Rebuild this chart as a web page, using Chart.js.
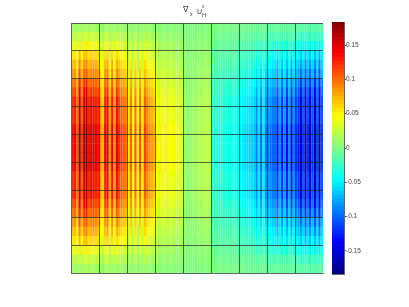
<!DOCTYPE html>
<html>
<head>
<meta charset="utf-8">
<title>Heat map</title>
<script src="https://cdn.jsdelivr.net/npm/chart.js@4"></script>
<style>
    html, body { margin: 0; padding: 0; background: #fff; }
    #wrap { position: relative; width: 409px; height: 307px; overflow: hidden; }
    canvas { position: absolute; left: 0; top: 0; filter: blur(0.3px); }
    #title span { position: absolute; font-family: "Liberation Sans", sans-serif; color: #333; line-height: 1; white-space: nowrap; }
</style>
</head>
<body>
<div id="wrap">
    <canvas id="heatChart" width="409" height="307"></canvas>
    <canvas id="barChart" width="409" height="307"></canvas>
    <div id="title">
        <span style="left:183px;top:6px;font-size:8px;font-family:'DejaVu Sans'">∇</span>
        <span style="left:190px;top:12px;font-size:5px">x</span>
        <span style="left:197px;top:8px;font-size:7px">U</span>
        <span style="left:202px;top:12.5px;font-size:5.5px">H</span>
        <span style="left:202px;top:4px;font-size:5px;font-family:'DejaVu Sans'">ε</span>
    </div>
</div>
<script>
// Values, in thousandths. One line per grid cell, 12 columns each.
// Levels go from the top edge of the plot to the middle row.
const level0 = [
    12,12,10,14,11,14,14,12,13,12,12,11,
    9,7,11,12,8,11,8,11,10,9,9,8,
    6,8,5,8,6,8,6,8,7,6,6,6,
    4,3,4,3,4,3,3,3,3,3,2,2,
    0,0,0,1,1,1,1,1,1,1,1,1,
    -2,-2,-2,-2,-2,-2,-2,-3,-3,-3,-3,-3,
    -5,-5,-5,-6,-6,-6,-6,-8,-5,-8,-5,-8,
    -9,-9,-9,-9,-11,-8,-11,-8,-12,-8,-12,-9,
    -12,-13,-15,-12,-15,-12,-16,-12,-16,-12,-16,-12
];
const level1 = [
    23,24,18,30,20,29,30,23,26,25,24,23,
    15,12,24,26,14,25,14,25,21,19,18,17,
    9,18,8,18,9,19,9,20,16,15,14,12,
    9,6,9,7,9,7,8,7,7,7,6,5,
    1,1,1,2,2,2,3,3,3,4,4,3,
    -5,-6,-5,-6,-5,-7,-6,-7,-6,-7,-7,-8,
    -9,-9,-10,-10,-10,-11,-11,-16,-9,-17,-9,-16,
    -16,-17,-17,-18,-22,-14,-23,-14,-24,-14,-23,-16,
    -21,-22,-27,-20,-28,-20,-29,-20,-30,-19,-30,-20
];
const level2 = [
    39,41,30,52,33,49,52,39,44,43,41,39,
    26,21,41,44,25,42,25,43,36,32,30,29,
    15,30,14,30,15,32,15,33,28,26,23,21,
    15,10,15,12,15,12,13,12,12,12,10,9,
    1,2,2,3,3,4,5,5,6,6,6,6,
    -9,-10,-9,-11,-9,-12,-10,-12,-11,-12,-12,-13,
    -15,-16,-16,-17,-17,-18,-19,-28,-16,-29,-16,-28,
    -28,-28,-30,-30,-38,-25,-39,-25,-41,-25,-40,-28,
    -36,-38,-46,-33,-48,-35,-50,-33,-51,-32,-51,-33
];
const level3 = [
    54,56,42,71,46,68,71,54,60,59,57,54,
    35,29,56,60,34,58,34,59,50,45,42,40,
    21,42,19,42,21,44,21,46,38,35,32,29,
    20,14,20,16,20,16,18,17,17,16,14,13,
    2,2,3,4,5,6,6,7,8,9,9,8,
    -12,-14,-12,-15,-13,-16,-14,-16,-15,-16,-17,-18,
    -21,-22,-22,-23,-24,-25,-26,-38,-22,-40,-22,-38,
    -38,-39,-41,-42,-52,-34,-54,-34,-56,-34,-55,-38,
    -50,-52,-64,-46,-66,-48,-69,-46,-70,-44,-70,-46
];
const level4 = [
    68,70,53,89,58,85,89,68,75,74,72,68,
    44,36,70,75,43,73,43,74,63,56,53,50,
    26,53,24,53,26,55,26,58,48,44,40,36,
    25,18,25,20,25,20,23,21,21,20,18,16,
    3,3,4,5,6,7,8,9,10,11,11,10,
    -15,-18,-15,-19,-16,-20,-18,-20,-19,-20,-21,-23,
    -26,-27,-28,-29,-30,-31,-33,-48,-28,-50,-28,-48,
    -48,-49,-51,-53,-65,-43,-68,-43,-70,-43,-69,-48,
    -63,-65,-80,-58,-83,-60,-86,-58,-88,-55,-88,-58
];
const level5 = [
    81,84,63,107,69,102,107,81,90,89,86,81,
    53,43,84,90,51,87,51,89,75,67,63,60,
    31,63,29,63,31,66,31,69,57,53,48,43,
    30,22,30,24,30,24,28,25,25,24,22,19,
    3,4,5,6,7,8,10,11,12,13,13,12,
    -18,-22,-18,-23,-19,-24,-22,-24,-23,-24,-25,-27,
    -31,-32,-34,-35,-36,-37,-39,-57,-33,-60,-33,-57,
    -57,-59,-61,-63,-78,-51,-81,-51,-84,-51,-83,-57,
    -75,-78,-96,-69,-99,-72,-103,-69,-105,-66,-105,-69
];
const level6 = [
    95,98,74,125,81,119,125,95,105,104,100,95,
    62,50,98,105,60,102,60,104,88,78,74,70,
    36,74,34,74,36,77,36,81,67,62,56,50,
    35,25,35,28,35,28,32,29,29,28,25,22,
    4,4,6,7,8,10,11,13,14,15,15,14,
    -21,-25,-21,-27,-22,-28,-25,-28,-27,-28,-29,-32,
    -36,-38,-39,-41,-42,-43,-46,-67,-39,-70,-39,-67,
    -67,-69,-71,-74,-91,-60,-95,-60,-98,-60,-97,-67,
    -88,-91,-112,-81,-116,-84,-120,-81,-123,-77,-123,-81
];
const level7 = [
    108,112,84,142,92,136,142,108,120,118,114,108,
    70,58,112,120,68,116,68,118,100,90,84,80,
    42,84,38,84,42,88,42,92,76,70,64,58,
    40,29,40,32,40,32,37,34,34,32,29,26,
    4,5,6,8,10,11,13,14,16,18,18,16,
    -24,-29,-24,-30,-26,-32,-29,-32,-30,-32,-34,-36,
    -42,-43,-45,-46,-48,-50,-52,-76,-44,-80,-44,-76,
    -76,-78,-82,-84,-104,-68,-108,-68,-112,-68,-110,-76,
    -100,-104,-128,-92,-132,-96,-138,-92,-140,-88,-140,-92
];
const level8 = [
    122,126,95,160,104,153,160,122,135,133,129,122,
    79,65,126,135,77,131,77,133,113,101,95,90,
    47,95,43,95,47,99,47,104,86,79,72,65,
    45,32,45,36,45,36,41,38,38,36,32,29,
    5,5,7,9,11,13,14,16,18,20,20,18,
    -27,-32,-27,-34,-29,-36,-32,-36,-34,-36,-38,-41,
    -47,-49,-50,-52,-54,-56,-59,-86,-50,-90,-50,-86,
    -86,-88,-92,-95,-117,-77,-122,-77,-126,-77,-124,-86,
    -113,-117,-144,-104,-149,-108,-155,-104,-158,-99,-158,-104
];
const level9 = [
    135,140,105,178,115,170,178,135,150,148,143,135,
    88,72,140,150,85,145,85,148,125,112,105,100,
    52,105,48,105,52,110,52,115,95,88,80,72,
    50,36,50,40,50,40,46,42,42,40,36,32,
    5,6,8,10,12,14,16,18,20,22,22,20,
    -30,-36,-30,-38,-32,-40,-36,-40,-38,-40,-42,-45,
    -52,-54,-56,-58,-60,-62,-65,-95,-55,-100,-55,-95,
    -95,-98,-102,-105,-130,-85,-135,-85,-140,-85,-138,-95,
    -125,-130,-160,-115,-165,-120,-172,-115,-175,-110,-175,-115
];
const levels = [level0, level1, level2, level3, level4, level5, level6, level7, level8, level9];

// The picture is the same above and below the middle, so each row just picks a level
const rowLevels = [0,1,2,3,4,5,6,7,8,8,8,9,9,9,9,9,8,8,8,7,6,5,4,3,2,1,0];

const colorTicks = [0.15, 0.1, 0.05, 0, -0.05, -0.1, -0.15];
const colorMax = 0.1835;
const colorSteps = 64;
const jetStops = [
    [0, 0, 0, 131], [0.125, 0, 0, 255], [0.375, 0, 255, 255],
    [0.625, 255, 255, 0], [0.875, 255, 0, 0], [1, 128, 0, 0]
];

const cellCols = 12;
const cellRows = 3;

function jetColor(v) {
    let t = Math.min(1, Math.max(0, (v + colorMax) / (2 * colorMax)));
    for (let i = 1; i < jetStops.length; i++) {
        const a = jetStops[i - 1], b = jetStops[i];
        if (t <= b[0]) {
            const f = (t - a[0]) / (b[0] - a[0]);
            const mix = k => Math.round(a[k] + (b[k] - a[k]) * f);
            return `rgb(${mix(1)},${mix(2)},${mix(3)})`;
        }
    }
    return "rgb(128,0,0)";
}

// 1. Main heat map, one floating bar per cell
const columns = level0.map((_, i) => i);
const rowSets = rowLevels.map((lev, r) => ({
    data: columns.map(() => [r, r + 1.05]),
    backgroundColor: levels[lev].map(v => jetColor(v / 1000)),
    borderWidth: 0
}));

new Chart(document.getElementById("heatChart"), {
    type: "bar",
    data: { labels: columns, datasets: rowSets },
    options: {
        responsive: false,
        animation: false,
        events: [],
        layout: { padding: { left: 71.5, top: 23, right: 86, bottom: 33.5 } },
        plugins: { legend: { display: false }, title: { display: false }, tooltip: { enabled: false } },
        datasets: { bar: { barPercentage: 1.02, categoryPercentage: 1, grouped: false } },
        scales: {
            x: {
                ticks: { display: false, autoSkip: false },
                border: { display: true, color: "#666", z: 2 },
                grid: {
                    z: 1, drawTicks: false, lineWidth: 1,
                    color: c => (c.index % cellCols === 0 ? "rgba(40,40,40,0.72)" : "rgba(0,0,0,0)")
                }
            },
            y: {
                min: 0, max: rowLevels.length,
                ticks: { display: false, stepSize: cellRows },
                border: { display: true, color: "#666", z: 2 },
                grid: { z: 1, drawTicks: false, lineWidth: 1, color: "rgba(40,40,40,0.72)" }
            }
        }
    }
});

// 2. Colour bar on the right
const rampSets = [];
for (let i = 0; i < colorSteps; i++) {
    const lo = -colorMax + 2 * colorMax * i / colorSteps;
    const hi = -colorMax + 2 * colorMax * (i + 1.1) / colorSteps;
    rampSets.push({ data: [[lo, hi]], backgroundColor: jetColor((lo + hi) / 2), borderWidth: 0 });
}

new Chart(document.getElementById("barChart"), {
    type: "bar",
    data: { labels: [""], datasets: rampSets },
    options: {
        responsive: false,
        animation: false,
        events: [],
        layout: { padding: { left: 332, top: 22, right: 0, bottom: 33 } },
        plugins: { legend: { display: false }, tooltip: { enabled: false } },
        datasets: { bar: { barPercentage: 1, categoryPercentage: 1, grouped: false } },
        scales: {
            x: {
                ticks: { display: false },
                grid: { display: false, drawTicks: false },
                border: { display: true, color: "#666" },
                afterFit: s => { s.height = 0; }
            },
            y: {
                position: "right",
                min: -colorMax, max: colorMax,
                afterFit: s => { s.width = 409 - 344; },
                afterBuildTicks: s => { s.ticks = colorTicks.map(value => ({ value })); },
                ticks: {
                    color: "#444", padding: 0, align: "center",
                    font: { family: "Liberation Sans", size: 6.5 },
                    callback: v => String(v)
                },
                border: { display: true, color: "#666" },
                grid: { drawOnChartArea: false, tickLength: 2, color: "#444" }
            }
        }
    }
});
</script>
</body>
</html>
